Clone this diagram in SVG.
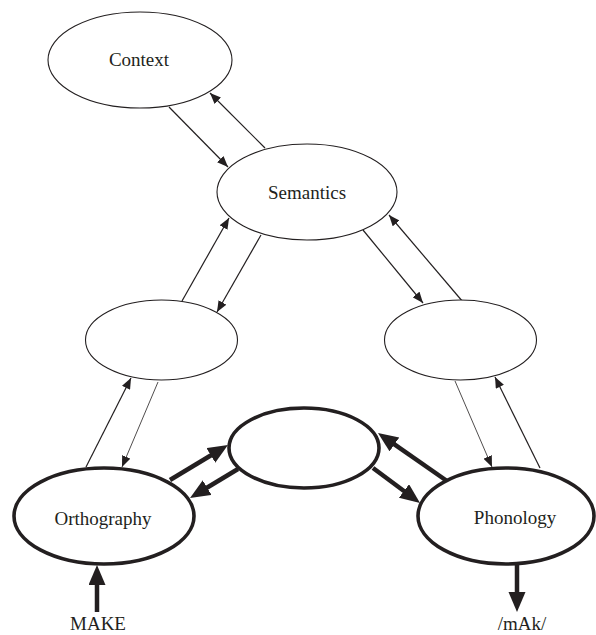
<svg xmlns="http://www.w3.org/2000/svg" width="596" height="635" viewBox="0 0 596 635">
<style>
.thin{fill:#fff;stroke:#231f20;stroke-width:1.1}
.thick{fill:#fff;stroke:#231f20;stroke-width:3.6}
.lbl{font-family:"Liberation Serif","Times New Roman",serif;font-size:19px;fill:#231f20;text-anchor:middle}
.c1{stroke:#231f20;stroke-width:1.2;fill:none;marker-end:url(#ah)}
.c0{stroke:#231f20;stroke-width:0.8;fill:none;marker-end:url(#ah)}
.c4{stroke:#231f20;stroke-width:4.5;fill:none;marker-end:url(#ahb)}
</style>
<defs>
<marker id="ah" markerUnits="userSpaceOnUse" markerWidth="12" markerHeight="9" refX="11" refY="4.5" orient="auto" viewBox="0 0 12 9">
<path d="M0,0 L11,4.5 L0,9 Z" fill="#231f20"/>
</marker>
<marker id="ahb" markerUnits="userSpaceOnUse" markerWidth="21" markerHeight="18" refX="10" refY="8.5" orient="auto" viewBox="0 0 21 18">
<path d="M0,0 L20,8.5 L0,17 Z" fill="#231f20"/>
</marker>
</defs>
<g id="connectors">
<line class="c1" x1="169" y1="107" x2="228" y2="167"/>
<line class="c1" x1="265" y1="148" x2="210" y2="93"/>
<line class="c1" x1="261" y1="235" x2="217" y2="312"/>
<line class="c1" x1="182" y1="301" x2="229" y2="218"/>
<line class="c1" x1="363" y1="230" x2="423" y2="303"/>
<line class="c1" x1="463" y1="302" x2="389" y2="215"/>
<line class="c0" x1="158" y1="382" x2="122" y2="467"/>
<line class="c1" x1="86" y1="467" x2="131" y2="378"/>
<line class="c0" x1="455" y1="381" x2="492" y2="467"/>
<line class="c1" x1="540" y1="468" x2="495" y2="377"/>
<line class="c4" x1="170" y1="480" x2="219.4" y2="450.2"/>
<line class="c4" x1="238" y1="469" x2="198.6" y2="492.8"/>
<line class="c4" x1="373" y1="468" x2="412" y2="497"/>
<line class="c4" x1="447" y1="481" x2="386.2" y2="438.7"/>
<line class="c4" x1="97" y1="612" x2="97" y2="575"/>
<line class="c4" x1="517" y1="565" x2="517" y2="602"/>
</g>
<g id="context"><ellipse class="thin" cx="140" cy="60" rx="92" ry="48"/><text class="lbl" x="139" y="66">Context</text></g>
<g id="semantics"><ellipse class="thin" cx="307" cy="192" rx="90" ry="48"/><text class="lbl" x="307" y="199">Semantics</text></g>
<g id="hidden-left"><ellipse class="thin" cx="161.5" cy="340" rx="76" ry="40"/></g>
<g id="hidden-right"><ellipse class="thin" cx="460.5" cy="340" rx="76" ry="40"/></g>
<g id="hidden-bottom"><ellipse class="thick" cx="304" cy="448" rx="75" ry="40"/></g>
<g id="orthography"><ellipse class="thick" cx="104" cy="516" rx="90" ry="48"/><text class="lbl" x="103" y="525">Orthography</text></g>
<g id="phonology"><ellipse class="thick" cx="506" cy="516" rx="88" ry="48"/><text class="lbl" x="515" y="524">Phonology</text></g>
<g id="input"><text class="lbl" x="98" y="630">MAKE</text></g>
<g id="output"><text class="lbl" x="522" y="630">/mAk/</text></g>
</svg>
